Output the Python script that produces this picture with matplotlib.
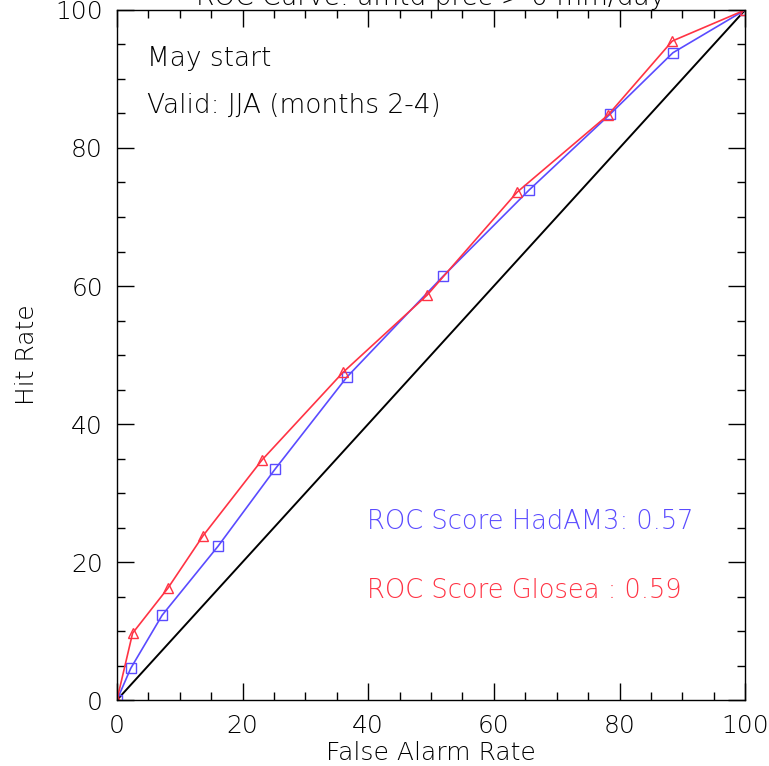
import matplotlib
matplotlib.use("Agg")
import matplotlib.pyplot as plt
from matplotlib.ticker import MultipleLocator

# false alarm rate / hit rate (%)
had_far = [0, 2.2, 7.2, 16.1, 25.2, 36.6, 51.9, 65.6, 78.5, 88.5, 100]
had_hit = [0, 4.6, 12.3, 22.3, 33.5, 46.8, 61.4, 73.9, 84.9, 93.8, 100]

glo_far = [0, 2.5, 8.1, 13.7, 23.1, 36.0, 49.4, 63.7, 78.2, 88.4, 100]
glo_hit = [0, 9.7, 16.2, 23.8, 34.8, 47.5, 58.7, 73.6, 84.8, 95.5, 100]

had_score = 0.57
glo_score = 0.59

blue = "#5a4bff"
red = "#ff3344"

fig = plt.figure(figsize=(7.69, 7.66), dpi=100)
ax = fig.add_axes([0.152, 0.086, 0.817, 0.901])

ax.plot([0, 100], [0, 100], color="black", lw=1.4)
ax.plot(had_far, had_hit, color=blue, lw=1.2, marker="s", ms=7,
        mfc="none", mec=blue, mew=1.0)
ax.plot(glo_far, glo_hit, color=red, lw=1.2, marker="^", ms=7,
        mfc="none", mec=red, mew=1.0)

ax.set_xlim(0, 100)
ax.set_ylim(0, 100)
ax.xaxis.set_major_locator(MultipleLocator(20))
ax.xaxis.set_minor_locator(MultipleLocator(5))
ax.yaxis.set_major_locator(MultipleLocator(20))
ax.yaxis.set_minor_locator(MultipleLocator(5))
ax.tick_params(which="both", direction="in", top=True, right=True,
               labelsize=18, width=1.0)
ax.tick_params(which="major", length=12, pad=10)
ax.tick_params(which="minor", length=6)
for lab in ax.get_xticklabels() + ax.get_yticklabels():
    lab.set_fontweight("light")
for s in ax.spines.values():
    s.set_linewidth(1.0)

ax.set_xlabel("False Alarm Rate", fontsize=18, fontweight="light", labelpad=2)
ax.set_ylabel("Hit Rate", fontsize=18, fontweight="light", labelpad=12)

ax.text(4.8, 93, "May start", fontsize=19, fontweight="light", va="center")
ax.text(4.8, 86.2, "Valid: JJA (months 2-4)", fontsize=19,
        fontweight="light", va="center")
ax.text(39.8, 25.9, "ROC Score HadAM3: %.2f" % had_score, fontsize=18.5,
        fontweight="light", color=blue, va="center")
ax.text(39.8, 15.9, "ROC Score Glosea : %.2f" % glo_score, fontsize=18.5,
        fontweight="light", color=red, va="center")

# title sits mostly above the figure edge, as in the reference
fig.text(0.56, 0.9935, "ROC Curve: amtd prec > 0 mm/day", fontsize=19,
         fontweight="light", ha="center", va="baseline")

fig.savefig("out.png", dpi=100)
